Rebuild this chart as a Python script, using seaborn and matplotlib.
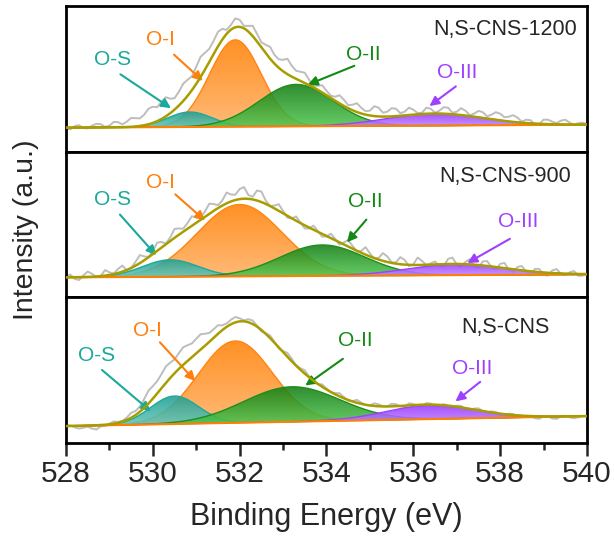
import numpy as np
import matplotlib
matplotlib.use('Agg')
import matplotlib.pyplot as plt
from matplotlib.colors import LinearSegmentedColormap
import seaborn as sns

sns.set_style('ticks')
plt.rcParams['font.family'] = ['Liberation Sans', 'DejaVu Sans']

# measured O 1s spectra, 0.1 eV steps from 528 to 540 eV
energy = np.round(np.arange(528, 540.001, 0.1), 1)

raw_1200 = [23.0, 22.3, 25.5, 26.5, 23.5, 23.3, 26.0, 27.8, 27.5, 24.8,
            26.0, 29.8, 29.5, 27.3, 30.0, 33.8, 33.5, 33.3, 37.0, 43.0,
            45.0, 44.5, 50.0, 54.5, 53.0, 53.5, 60.0, 68.0, 72.0, 75.5,
            85.0, 95.0, 99.0, 103.0, 111.0, 120.0, 123.0, 122.0, 127.0, 133.5,
            132.0, 126.0, 126.0, 126.0, 118.0, 109.5, 107.0, 105.0, 97.0, 92.5,
            92.0, 93.0, 86.0, 81.0, 80.0, 79.0, 72.0, 66.0, 66.0, 66.5,
            61.0, 56.0, 55.0, 56.5, 52.0, 46.5, 47.0, 48.5, 44.0, 40.5,
            41.0, 45.5, 44.0, 39.0, 40.0, 43.5, 43.0, 38.5, 40.0, 44.0,
            42.0, 38.5, 39.0, 44.0, 43.0, 39.0, 41.0, 44.5, 44.0, 39.0,
            40.0, 43.5, 41.0, 36.5, 38.0, 40.8, 39.5, 35.3, 37.0, 39.5,
            38.0, 34.5, 35.0, 36.5, 34.0, 30.0, 32.0, 31.5, 27.0, 27.5,
            32.0, 32.0, 30.0, 28.5, 31.0, 32.0, 29.0, 26.8, 28.5, 29.0,
            27.5]
raw_900 = [21.0, 22.8, 18.5, 17.3, 22.0, 25.8, 23.5, 20.5, 21.5, 27.3,
           25.0, 23.8, 28.5, 31.8, 27.0, 29.3, 35.5, 42.3, 41.0, 40.5,
           46.0, 54.8, 55.5, 53.8, 60.0, 68.5, 69.0, 68.8, 74.5, 81.3,
           80.0, 80.0, 86.0, 93.8, 93.5, 92.3, 97.0, 105.0, 103.0, 102.8,
           108.5, 110.5, 102.5, 100.8, 107.0, 106.0, 97.0, 91.5, 92.0, 93.3,
           86.5, 79.8, 79.0, 81.0, 75.0, 69.0, 69.0, 71.8, 66.5, 60.8,
           61.0, 63.8, 58.5, 52.8, 55.0, 57.3, 51.5, 46.0, 46.5, 50.3,
           44.0, 38.8, 39.5, 44.3, 41.0, 35.0, 35.0, 40.3, 37.5, 31.3,
           33.0, 39.8, 36.5, 32.3, 34.0, 35.8, 31.5, 31.0, 38.5, 39.8,
           33.0, 30.3, 35.5, 38.3, 31.0, 29.5, 36.0, 36.3, 30.5, 28.0,
           33.5, 34.5, 27.5, 25.0, 30.5, 31.3, 26.0, 22.3, 28.5, 28.5,
           22.5, 21.8, 27.0, 28.3, 23.5, 22.3, 25.0, 26.3, 21.5, 21.8,
           24.0]
raw_cns = [17.5, 17.6, 15.7, 14.5, 15.3, 16.4, 14.5, 13.5, 16.7, 17.0,
           19.3, 21.7, 21.1, 22.3, 25.5, 30.3, 32.0, 36.5, 44.0, 52.5,
           57.0, 62.0, 69.0, 76.8, 80.5, 83.8, 90.1, 96.0, 98.0, 99.8,
           104.5, 109.0, 109.5, 110.3, 114.0, 118.0, 118.0, 119.8, 123.5, 126.3,
           125.0, 123.0, 124.0, 122.8, 117.5, 111.8, 110.0, 107.8, 101.5, 94.8,
           92.0, 90.3, 84.5, 77.8, 75.0, 72.8, 66.5, 60.8, 59.0, 58.8,
           54.5, 50.8, 50.0, 50.0, 46.0, 42.5, 42.0, 43.3, 40.5, 38.1,
           37.7, 39.8, 38.8, 36.8, 36.7, 39.3, 38.9, 36.7, 36.5, 39.8,
           39.1, 36.8, 37.4, 40.0, 39.5, 37.4, 37.2, 38.9, 37.5, 35.9,
           37.4, 37.2, 34.0, 33.3, 34.5, 34.8, 32.0, 30.9, 31.7, 31.1,
           28.4, 27.9, 29.4, 29.1, 26.7, 26.0, 27.2, 27.1, 24.9, 24.3,
           26.7, 26.7, 24.6, 24.2, 26.7, 27.3, 25.8, 24.8, 25.8, 26.9,
           27.0]

samples = ['N,S-CNS-1200', 'N,S-CNS-900', 'N,S-CNS']
components = ['O-S', 'O-I', 'O-II', 'O-III']

# fitted components: centre (eV), height, FWHM (eV)
centers_1200 = [530.85, 531.9, 533.3, 536.5]
heights_1200 = [15, 87, 42, 12]
fwhm_1200 = [1.2, 1.4, 2.0, 2.6]
centers_900 = [530.4, 532.0, 533.9, 537.0]
heights_900 = [17, 72, 31, 11]
fwhm_900 = [1.5, 2.3, 2.3, 2.6]
centers_cns = [530.5, 531.9, 533.2, 536.4]
heights_cns = [28, 82, 35, 14]
fwhm_cns = [1.3, 2.0, 2.6, 2.4]

# linear background at 528 and 540 eV
background_1200 = [24, 27]
background_900 = [20, 23]
background_cns = [17, 27]

panels = [
    (raw_1200, centers_1200, heights_1200, fwhm_1200, background_1200),
    (raw_900, centers_900, heights_900, fwhm_900, background_900),
    (raw_cns, centers_cns, heights_cns, fwhm_cns, background_cns),
]

# gradient fills (bottom colour, top colour) and label colours
fill_grad = [('#62c7bb', '#1f9e92'), ('#ffb064', '#ff8206'),
             ('#52c852', '#137d13'), ('#c28cff', '#9a38ff')]
edge_colors = ['#21a89b', '#ff8410', '#1c8f1c', '#a040ff']
text_colors = ['#1aa99a', '#ff7f0e', '#138a13', '#a040ff']
envelope_color = '#a89d00'

# label text / arrow positions (energy, intensity) per panel
label_pos = [
    [((529.08, 92), (529.2, 79), (530.47, 42)),
     ((530.17, 112), (530.44, 99), (531.2, 69)),
     ((534.84, 97), (534.7, 87), (533.51, 66)),
     ((537.01, 79), (537.03, 67), (536.32, 44))],
    [((529.08, 98), (529.2, 85), (530.12, 40)),
     ((530.17, 115), (530.47, 105), (531.25, 75)),
     ((534.89, 96), (534.96, 80), (534.43, 53)),
     ((538.41, 76), (538.28, 60), (537.19, 33))],
    [((528.71, 88), (528.78, 75), (530.0, 30)),
     ((529.87, 113), (530.12, 103), (531.02, 60)),
     ((534.66, 103), (534.43, 86), (533.46, 56)),
     ((537.35, 75), (537.59, 63), (536.92, 40))],
]
sample_pos = [(538.12, 122), (538.12, 121), (538.12, 116)]

fig, axes = plt.subplots(3, 1, figsize=(6.14, 5.37), dpi=100, sharex=True)
fig.subplots_adjust(left=0.1075, right=0.956, top=0.989, bottom=0.175, hspace=0)

grid = np.linspace(528, 540, 601)
draw_order = [1, 0, 2, 3]
ramp = np.linspace(0, 1, 128).reshape(-1, 1)

for i, ax in enumerate(axes):
    raw, cen, hgt, fw, bgv = panels[i]
    bg = np.interp(grid, [528, 540], bgv)
    peaks = [h * np.exp(-4 * np.log(2) * ((grid - c) / w) ** 2) for c, h, w in zip(cen, hgt, fw)]

    sns.lineplot(x=energy, y=raw, ax=ax, color='#bdbdbd', lw=1.4, estimator=None, zorder=1)
    for n, k in enumerate(draw_order):
        poly = ax.fill_between(grid, bg, bg + peaks[k], color='none', lw=0)
        cmap = LinearSegmentedColormap.from_list(components[k], list(fill_grad[k]))
        img = ax.imshow(ramp, cmap=cmap, aspect='auto', origin='lower', alpha=0.88,
                        extent=[528, 540, bg.min(), (bg + peaks[k]).max()], zorder=2 + n * 0.1)
        img.set_clip_path(poly.get_paths()[0], transform=ax.transData)
        ax.plot(grid, bg + peaks[k], color=edge_colors[k], lw=1.0, zorder=2.05 + n * 0.1)
    ax.plot(grid, bg, color='#ff8000', lw=1.5, zorder=3)
    sns.lineplot(x=grid, y=bg + np.sum(peaks, axis=0), ax=ax, color=envelope_color, lw=1.8,
                 estimator=None, zorder=4)

    for k, name in enumerate(components):
        txt, start, end = label_pos[i][k]
        ax.text(txt[0], txt[1], name, color=text_colors[k], fontsize=15, ha='center', va='center')
        ax.annotate('', xy=end, xytext=start,
                    arrowprops=dict(arrowstyle='-|>', color=text_colors[k], lw=1.5, mutation_scale=14))
    ax.text(sample_pos[i][0], sample_pos[i][1], samples[i], fontsize=15.5, ha='center', va='center')

    ax.set_xlim(528, 540)
    ax.set_ylim(0, 146)
    ax.set_yticks([])
    ax.set_ylabel('')
    for sp in ax.spines.values():
        sp.set_linewidth(2)
        sp.set_color('black')
    if i < 2:
        ax.tick_params(axis='x', which='both', bottom=False, labelbottom=False)

ax = axes[2]
ax.set_xticks(np.arange(528, 541, 2))
ax.set_xticks(np.arange(529, 541, 2), minor=True)
ax.tick_params(axis='x', which='major', direction='out', length=9, width=1.8, labelsize=21.5, pad=3)
ax.tick_params(axis='x', which='minor', direction='out', length=5, width=1.8)
ax.set_xlabel('Binding Energy (eV)', fontsize=22, labelpad=10)
fig.text(0.042, 0.572, 'Intensity (a.u.)', rotation=90, fontsize=20.5, ha='center', va='center')

fig.savefig('out.png', dpi=100)
